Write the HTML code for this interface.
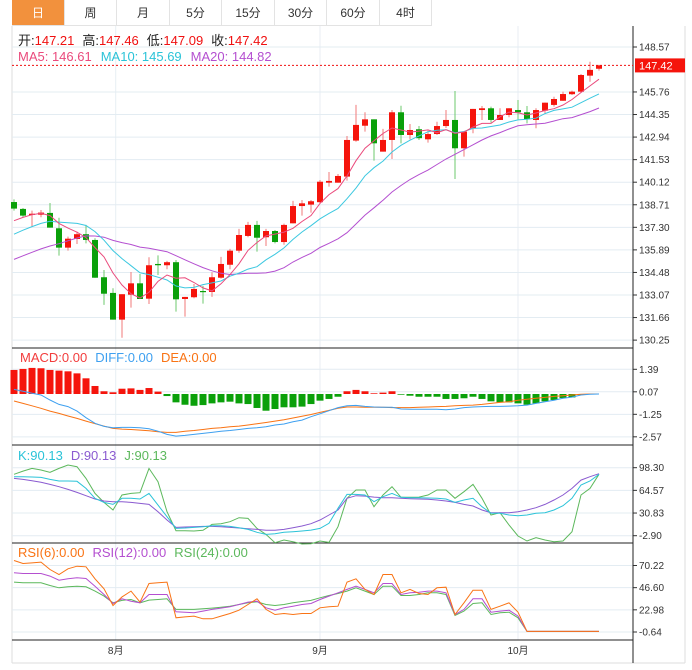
<!DOCTYPE html>
<html><head><meta charset="utf-8">
<style>
body{margin:0;background:#fff;width:692px;height:670px;overflow:hidden;font-family:"Liberation Sans","Noto Sans CJK SC",sans-serif;}
#wrap{position:relative;width:692px;height:670px;}
.tab{position:absolute;top:0;height:26px;line-height:26px;text-align:center;font-size:12px;color:#333;border-right:1px solid #e3e3e3;border-bottom:1px solid #e3e3e3;box-sizing:border-box;}
.tab.on{background:#f2913d;color:#fff;}
svg{position:absolute;left:0;top:0;}
</style></head><body>
<div id="wrap">
<div class="tab on" style="left:12px;width:53px">日</div>
<div class="tab" style="left:65px;width:52px">周</div>
<div class="tab" style="left:117px;width:53px">月</div>
<div class="tab" style="left:170px;width:52px">5分</div>
<div class="tab" style="left:222px;width:53px">15分</div>
<div class="tab" style="left:275px;width:52px">30分</div>
<div class="tab" style="left:327px;width:53px">60分</div>
<div class="tab" style="left:380px;width:52px">4时</div>
<svg id="svg" width="692" height="670"></svg>
</div>
<script>
const opens=[138.88,138.45,138.07,138.09,138.20,137.24,136.03,136.57,136.87,136.51,134.18,133.20,131.53,133.09,133.80,132.84,135.01,134.93,135.12,132.82,132.93,133.32,133.26,134.15,134.96,135.84,136.76,137.45,136.68,137.07,136.38,137.55,138.63,138.72,138.87,140.09,140.09,140.47,142.72,143.65,144.05,142.03,142.76,144.49,143.07,143.43,142.80,143.13,143.63,144.01,142.24,143.49,144.63,144.74,144.01,144.32,144.63,144.49,144.01,144.59,144.95,145.21,145.62,145.78,146.78,147.21];
const highs=[139.05,138.51,138.34,138.38,138.82,137.90,136.72,137.03,137.45,136.62,134.63,133.49,133.12,134.51,134.38,135.43,135.55,135.20,135.26,132.95,133.76,133.64,134.49,135.45,135.95,137.20,137.64,137.70,137.20,137.13,137.53,138.95,139.01,139.01,140.26,140.76,140.63,143.01,144.95,144.49,144.05,143.45,144.63,144.90,143.76,143.63,143.34,143.90,144.63,145.82,143.28,144.70,144.88,144.84,144.74,144.74,145.26,144.88,144.74,145.09,145.46,145.78,145.84,146.88,147.65,147.46];
const lows=[138.34,137.93,137.34,137.93,137.28,135.53,135.84,136.26,136.30,134.15,132.45,131.53,130.40,132.28,132.82,132.51,134.32,134.68,132.03,131.72,132.87,132.53,132.95,134.09,134.68,135.71,136.68,135.78,136.13,136.30,136.21,137.55,138.03,138.22,138.82,139.84,140.09,140.22,142.65,143.28,141.47,142.03,141.57,142.55,142.80,142.76,142.59,143.07,143.51,140.32,141.72,143.18,144.01,143.84,144.01,144.18,144.05,143.80,143.49,144.38,144.84,145.21,145.57,145.72,146.40,147.09];
const closes=[138.47,138.03,138.15,138.22,137.28,136.03,136.59,136.87,136.51,134.15,133.15,131.53,133.12,133.80,132.82,134.93,134.93,135.12,132.80,132.95,133.45,133.26,134.18,135.01,135.84,136.82,137.45,136.65,137.07,136.38,137.45,138.63,138.80,138.93,140.15,140.20,140.51,142.76,143.70,144.05,142.55,142.76,144.49,143.07,143.38,142.87,143.13,143.63,144.01,142.24,143.28,144.70,144.74,144.01,144.32,144.74,144.49,144.05,144.63,145.09,145.32,145.63,145.78,146.82,147.14,147.42];
const priorCloses=[133.5,133.8,134.0,133.6,133.2,132.9,133.4,133.9,134.3,134.6,135.5,135.9,136.2,136.0,136.5,137.0,137.3,137.8,138.0];
const priceTicks=[148.57,145.76,144.35,142.94,141.53,140.12,138.71,137.30,135.89,134.48,133.07,131.66,130.25];
const macdHist=[1.41,1.47,1.53,1.51,1.41,1.37,1.33,1.21,0.92,0.47,0.16,0.10,0.31,0.33,0.24,0.35,0.14,-0.12,-0.49,-0.63,-0.69,-0.65,-0.55,-0.49,-0.45,-0.55,-0.59,-0.82,-0.98,-0.88,-0.78,-0.78,-0.74,-0.59,-0.39,-0.29,-0.16,0.16,0.24,0.16,0.04,0.08,0.16,-0.04,-0.10,-0.16,-0.16,-0.16,-0.29,-0.29,-0.25,-0.16,-0.29,-0.43,-0.49,-0.49,-0.55,-0.63,-0.55,-0.43,-0.35,-0.24,-0.20,-0.06,0,0];
const diffVals=[0.27,0.16,0.04,-0.06,-0.35,-0.61,-0.74,-1.0,-1.39,-1.72,-1.90,-1.98,-1.96,-1.96,-1.98,-2.04,-2.18,-2.37,-2.47,-2.43,-2.37,-2.31,-2.25,-2.18,-2.14,-2.08,-2.02,-1.98,-1.92,-1.82,-1.76,-1.63,-1.53,-1.33,-1.16,-0.98,-0.80,-0.69,-0.67,-0.73,-0.76,-0.78,-0.78,-0.88,-0.90,-0.90,-0.90,-0.90,-0.92,-0.88,-0.80,-0.76,-0.74,-0.73,-0.73,-0.71,-0.69,-0.65,-0.55,-0.45,-0.37,-0.25,-0.18,-0.06,-0.02,0];
const deaVals=[-0.41,-0.55,-0.69,-0.84,-1.00,-1.14,-1.29,-1.43,-1.59,-1.74,-1.88,-2.02,-2.06,-2.08,-2.12,-2.16,-2.21,-2.25,-2.25,-2.18,-2.14,-2.08,-2.02,-1.98,-1.92,-1.88,-1.82,-1.74,-1.67,-1.59,-1.51,-1.41,-1.31,-1.20,-1.08,-0.96,-0.84,-0.76,-0.76,-0.78,-0.78,-0.78,-0.80,-0.80,-0.80,-0.78,-0.76,-0.74,-0.73,-0.69,-0.67,-0.65,-0.61,-0.55,-0.49,-0.45,-0.37,-0.31,-0.25,-0.20,-0.14,-0.10,-0.06,-0.02,0,0];
const macdTicks=[1.39,0.07,-1.25,-2.57];
const kVals=[84.9,84.9,84.4,83.9,80.9,78.5,78.5,78.0,67.5,52.7,46.7,43.7,52.7,52.7,51.7,60.1,42.7,25.4,8.0,8.5,9.5,10.5,12.0,12.0,11.0,9.0,6.5,2.1,-0.9,0.1,2.1,3.1,4.1,5.5,8.0,15.5,37.8,58.6,58.6,57.6,47.7,55.1,60.1,54.2,53.7,53.7,53.2,52.7,51.7,46.7,50.2,52.7,40.3,30.4,30.4,27.9,26.9,27.9,30.4,31.3,35.3,41.8,52.7,72.5,78.5,88.4];
const dVals=[82.4,80.9,78.9,76.5,73.5,70.0,66.0,61.6,56.6,51.7,48.7,47.7,47.7,46.7,45.2,43.7,32.8,20.4,9.5,10.0,10.5,11.0,11.0,10.5,9.5,8.5,7.5,6.5,5.1,5.1,6.5,9.0,11.5,15.0,20.4,27.9,35.3,52.7,56.6,56.1,54.6,53.7,53.7,52.7,52.2,51.7,51.2,50.2,48.7,46.7,43.7,41.3,35.3,31.3,31.3,31.3,32.8,35.3,38.8,43.7,50.2,57.6,67.5,79.9,84.9,89.4];
const jVals=[88.4,93.3,97.3,94.8,91.4,97.3,102.3,99.8,82.4,60.1,46.7,35.3,57.6,60.1,61.1,97.3,77.5,32.8,4.6,4.6,4.1,5.1,13.9,14.9,17.9,23.9,22.9,8.0,-0.9,-13.3,-9.3,-11.8,-15.3,-14.8,-10.8,-12.8,10.5,52.7,65.1,65.1,40.3,57.6,70.0,54.2,54.2,54.6,57.6,65.1,65.1,52.7,62.6,73.5,52.7,27.9,31.3,13.0,-3.4,-10.8,-5.8,-9.3,-11.8,-10.8,3.0,57.6,67.5,88.4];
const kdjTicks=[98.30,64.57,30.83,-2.90];
const rsi6=[75.5,72.3,73.0,73.8,65.9,60.6,66.7,69.5,68.8,56.0,45.4,27.6,36.8,42.9,31.2,51.0,51.8,52.5,14.5,15.5,16.3,13.4,13.4,16.3,19.1,22.6,28.7,34.7,23.4,18.0,19.1,18.0,19.1,19.1,25.1,26.2,26.9,52.5,56.0,44.7,39.3,60.6,60.6,41.1,44.7,40.4,39.3,46.4,47.1,18.0,30.5,43.9,43.9,23.4,26.9,30.5,20.5,0,0,0,0,0,0,0,0,0];
const rsi12=[62.4,61.7,61.7,61.7,58.9,54.6,56.0,57.1,56.4,48.2,39.3,29.7,34.7,32.2,30.5,39.3,39.3,39.3,20.9,20.5,19.8,21.6,23.4,24.8,26.2,28.7,31.2,32.2,25.1,22.6,25.1,26.9,28.7,29.7,34.0,37.6,41.1,44.7,48.2,44.7,41.1,51.0,51.0,39.3,41.1,41.8,42.9,42.9,41.1,18.0,23.4,34.7,34.7,20.5,21.6,22.6,16.3,0,0,0,0,0,0,0,0,0];
const rsi24=[52.5,51.8,51.8,51.8,48.9,46.4,47.5,48.2,47.5,42.9,37.6,30.5,33.0,34.0,30.5,33.3,34.0,34.7,23.4,23.4,23.4,24.1,24.8,25.8,26.9,28.7,30.5,31.5,28.7,27.6,28.7,30.5,31.9,33.0,35.8,38.3,40.4,42.9,46.4,42.9,39.3,48.2,48.2,38.3,38.3,39.3,41.1,41.1,39.3,17.0,21.6,29.7,30.5,18.0,19.8,20.5,14.5,0,0,0,0,0,0,0,0,0];
const rsiTicks=[70.22,46.60,22.98,-0.64];
const monthLabels=["8月","9月","10月"];
const monthIdx=[11.3,34,56];

const NS="http://www.w3.org/2000/svg";
const svg=document.getElementById('svg');
function mk(tag,attrs,parent){const e=document.createElementNS(NS,tag);for(const k in attrs)e.setAttribute(k,attrs[k]);(parent||svg).appendChild(e);return e;}
const xOf=i=>14+9*i;
const yP=p=>47+(148.57-p)*16.0;
const yM=v=>394-v*17.05;
const yK=v=>535.7-(v+2.9)*0.672;
const yR=v=>632-(v+0.64)*0.9386;
const L=12,R=633;

let e;
e=mk('line',{x1:L,y1:26,x2:L,y2:663,stroke:'#ddd'});

e=mk('line',{x1:685,y1:26,x2:685,y2:663,stroke:'#ddd'});

e=mk('line',{x1:L,y1:663,x2:685,y2:663,stroke:'#ddd'});

monthIdx.forEach((m,i)=>{
  e=mk('line',{x1:xOf(m),y1:26,x2:xOf(m),y2:640,stroke:'#e8eef3'});
  
  e=mk('text',{x:xOf(m),y:654,'font-size':10,fill:'#333','text-anchor':'middle'});
  e.textContent=monthLabels[i];
  
});
function hgrid(y,label,name){
  e=mk('line',{x1:L,y1:y,x2:R,y2:y,stroke:'#e3ecf2'});
  
  e=mk('line',{x1:R,y1:y,x2:R+4,y2:y,stroke:'#333'});
  
  e=mk('text',{x:R+6,y:y+3.5,'font-size':10,fill:'#333'});
  e.textContent=label;
  
}
priceTicks.forEach(t=>hgrid(yP(t),t.toFixed(2),'price-axis'));
macdTicks.forEach(t=>hgrid(yM(t)-1,t.toFixed(2),'macd-axis'));
kdjTicks.forEach(t=>hgrid(yK(t),t.toFixed(2),'kdj-axis'));
rsiTicks.forEach(t=>hgrid(yR(t),t.toFixed(2),'rsi-axis'));
[348,445,543,640].forEach(y=>{
  e=mk('line',{x1:L,y1:y,x2:R,y2:y,stroke:'#222'});
  
});
e=mk('line',{x1:R,y1:26,x2:R,y2:663,stroke:'#222'});


for(let i=0;i<closes.length;i++){
  const up=closes[i]>=opens[i];
  const col=up?'#f5140c':'#0aa00a',wc=up?'#f07a7a':'#6cc86c';
  const g=mk('g',{});
  
  const x=xOf(i);
  mk('line',{x1:x,y1:yP(highs[i]),x2:x,y2:yP(lows[i]),stroke:wc,'stroke-width':1},g);
  const top=yP(Math.max(opens[i],closes[i])),bot=yP(Math.min(opens[i],closes[i]));
  mk('rect',{x:x-3,y:top,width:6,height:Math.max(1.2,bot-top),fill:col},g);
}
const all=priorCloses.concat(closes),off=priorCloses.length;
function ma(n){const r=[];for(let i=0;i<closes.length;i++){let s=0;for(let j=0;j<n;j++)s+=all[off+i-j];r.push(s/n);}return r;}
function line(vals,yf,color,name,w){
  const p=vals.map((v,i)=>xOf(i).toFixed(1)+','+yf(v).toFixed(1)).join(' ');
  const el=mk('polyline',{points:p,fill:'none',stroke:color,'stroke-width':w||1});
  
}
line(ma(20),yP,'#b44fd0','ma20-line');
line(ma(10),yP,'#3cc8e0','ma10-line');
line(ma(5),yP,'#ea4a7c','ma5-line');
const lp=closes[closes.length-1];
e=mk('line',{x1:L,y1:yP(lp),x2:R,y2:yP(lp),stroke:'#f01010','stroke-dasharray':'2,2'});

e=mk('rect',{x:635,y:yP(lp)-7,width:50,height:14,fill:'#f5140c'});

e=mk('text',{x:639,y:yP(lp)+4,'font-size':11,fill:'#fff'});
e.textContent=lp.toFixed(2);


macdHist.forEach((v,i)=>{
  if(v===0)return;
  const y0=yM(0),y1=yM(v);
  e=mk('rect',{x:xOf(i)-3.5,y:Math.min(y0,y1),width:7,height:Math.abs(y1-y0),fill:v>0?'#f5140c':'#0aa00a'});
  
});
line(deaVals,yM,'#f97314','dea-line');
line(diffVals,yM,'#3ea0f0','diff-line');
line(jVals,yK,'#5cb85c','j-line');
line(dVals,yK,'#8a5ad0','d-line');
line(kVals,yK,'#2bc3d8','k-line');
line(rsi24,yR,'#5cb85c','rsi24-line');
line(rsi12,yR,'#b44fd0','rsi12-line');
line(rsi6,yR,'#f97314','rsi6-line');

function legend(x,y,parts,name,fs){
  const t=mk('text',{x:x,y:y,'font-size':fs||13});
  
  parts.forEach(p=>{const s=mk('tspan',{fill:p[1],dx:p[2]||0},t);s.textContent=p[0];});
}
legend(18,45,[['开:','#222'],['147.21','#f01010'],['高:','#222',8],['147.46','#f01010'],['低:','#222',8],['147.09','#f01010'],['收:','#222',8],['147.42','#f01010']],'ohlc-legend');
legend(18,61,[['MA5: 146.61','#ea4a7c'],['MA10: 145.69','#2bc3d8',9],['MA20: 144.82','#b44fd0',9]],'ma-legend');
legend(20,362,[['MACD:0.00','#f23c3c'],['DIFF:0.00','#3ea0f0',8],['DEA:0.00','#f97314',8]],'macd-legend');
legend(18,460,[['K:90.13','#2bc3d8'],['D:90.13','#8a5ad0',8],['J:90.13','#5cb85c',8]],'kdj-legend');
legend(18,557,[['RSI(6):0.00','#f97314'],['RSI(12):0.00','#b44fd0',8],['RSI(24):0.00','#5cb85c',8]],'rsi-legend');
</script>
</body></html>
